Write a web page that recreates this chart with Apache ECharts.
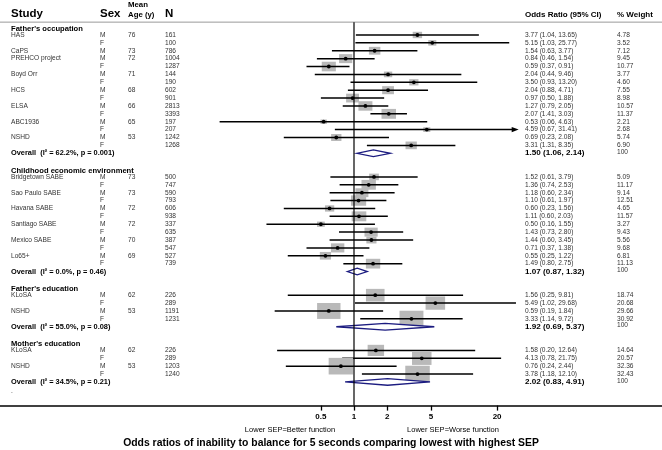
<!DOCTYPE html>
<html>
<head>
<meta charset="utf-8">
<script src="https://cdn.jsdelivr.net/npm/echarts@6/dist/echarts.min.js"></script>
<style>
  html, body { margin: 0; padding: 0; background: #fff; }
  #chart { width: 662px; height: 450px; }
</style>
</head>
<body>
<div id="chart"></div>
<script>
/* Forest plot: odds ratios by study, log x axis */

// study, sex, mean age, N, OR, lower, upper, % weight
const fatherOccupation = [
    ['HAS', 'M', '76', '161', 3.77, 1.04, 13.65, 4.78],
    ['', 'F', '', '100', 5.15, 1.03, 25.77, 3.52],
    ['CaPS', 'M', '73', '786', 1.54, 0.63, 3.77, 7.12],
    ['PREHCO project', 'M', '72', '1004', 0.84, 0.46, 1.54, 9.45],
    ['', 'F', '', '1287', 0.59, 0.37, 0.91, 10.77],
    ['Boyd Orr', 'M', '71', '144', 2.04, 0.44, 9.46, 3.77],
    ['', 'F', '', '190', 3.50, 0.93, 13.20, 4.60],
    ['HCS', 'M', '68', '602', 2.04, 0.88, 4.71, 7.55],
    ['', 'F', '', '901', 0.97, 0.50, 1.88, 8.98],
    ['ELSA', 'M', '66', '2813', 1.27, 0.79, 2.05, 10.57],
    ['', 'F', '', '3393', 2.07, 1.41, 3.03, 11.37],
    ['ABC1936', 'M', '65', '197', 0.53, 0.06, 4.63, 2.21],
    ['', 'F', '', '207', 4.59, 0.67, 31.41, 2.68],
    ['NSHD', 'M', '53', '1242', 0.69, 0.23, 2.08, 5.74],
    ['', 'F', '', '1268', 3.31, 1.31, 8.35, 6.90]
];
const childhoodEnvironment = [
    ['Bridgetown SABE', 'M', '73', '500', 1.52, 0.61, 3.79, 5.09],
    ['', 'F', '', '747', 1.36, 0.74, 2.53, 11.17],
    ['Sao Paulo SABE', 'M', '73', '590', 1.18, 0.60, 2.34, 9.14],
    ['', 'F', '', '793', 1.10, 0.61, 1.97, 12.51],
    ['Havana SABE', 'M', '72', '606', 0.60, 0.23, 1.56, 4.65],
    ['', 'F', '', '938', 1.11, 0.60, 2.03, 11.57],
    ['Santiago SABE', 'M', '72', '337', 0.50, 0.16, 1.55, 3.27],
    ['', 'F', '', '635', 1.43, 0.73, 2.80, 9.43],
    ['Mexico SABE', 'M', '70', '387', 1.44, 0.60, 3.45, 5.56],
    ['', 'F', '', '547', 0.71, 0.37, 1.38, 9.68],
    ['Lo65+', 'M', '69', '527', 0.55, 0.25, 1.22, 6.81],
    ['', 'F', '', '739', 1.49, 0.80, 2.75, 11.13]
];
const fatherEducation = [
    ['KLoSA', 'M', '62', '226', 1.56, 0.25, 9.81, 18.74],
    ['', 'F', '', '289', 5.49, 1.02, 29.68, 20.68],
    ['NSHD', 'M', '53', '1191', 0.59, 0.19, 1.84, 29.66],
    ['', 'F', '', '1231', 3.33, 1.14, 9.72, 30.92]
];
const motherEducation = [
    ['KLoSA', 'M', '62', '226', 1.58, 0.20, 12.64, 14.64],
    ['', 'F', '', '289', 4.13, 0.78, 21.75, 20.57],
    ['NSHD', 'M', '53', '1203', 0.76, 0.24, 2.44, 32.36],
    ['', 'F', '', '1240', 3.78, 1.18, 12.10, 32.43]
];

// I², p, OR, lower, upper
const overallEstimates = [
    ['62.2', '0.001', 1.50, 1.06, 2.14],
    ['0.0', '0.46', 1.07, 0.87, 1.32],
    ['55.0', '0.08', 1.92, 0.69, 5.37],
    ['34.5', '0.21', 2.02, 0.83, 4.91]
];
const sectionTitles = ["Father's occupation", 'Childhood economic environment', "Father's education", "Mother's education"];
const sectionStudies = [fatherOccupation, childhoodEnvironment, fatherEducation, motherEducation];

const xTicks = [0.5, 1, 2, 5, 20];
const arrowLimit = 30;

const FONT = '"Liberation Sans", Arial, sans-serif';
const col = { study: 11, sex: 100, age: 128, n: 165, or: 525, weight: 617 };

// build plot rows
const studyData = [];
const overallData = [];
const texts = [];
function addText(x, row, text, size, bold, color) {
    texts.push({ x, row, text, size, bold, color: color || '#000' });
}
let row = 0;
sectionTitles.forEach((title, s) => {
    addText(col.study, row + 0.2, title, 7.6, true);
    row++;
    sectionStudies[s].forEach(d => {
        const [name, sex, age, n, or, lo, hi, w] = d;
        studyData.push([or, lo, hi, w, row]);
        const c = '#333';
        if (name) addText(col.study, row, name, 6.6, false, c);
        addText(col.sex, row, sex, 6.6, false, c);
        if (age) addText(col.age, row, age, 6.6, false, c);
        addText(col.n, row, n, 6.6, false, c);
        addText(col.or, row, `${or.toFixed(2)} (${lo.toFixed(2)}, ${hi.toFixed(2)})`, 6.6, false, c);
        addText(col.weight, row, w.toFixed(2), 6.6, false, c);
        row++;
    });
    const [i2, p, or, lo, hi] = overallEstimates[s];
    overallData.push([or, lo, hi, row]);
    addText(col.study, row, `Overall  (I\u00b2 = ${i2}%, p = ${p})`, 7.4, true);
    addText(col.or, row, `${or.toFixed(2)} (${lo.toFixed(2)}, ${hi.toFixed(2)})`, 8.1, true);
    addText(col.weight, row - 0.15, '100', 6.6, false, '#333');
    row += 2;
});
addText(col.study, row - 0.8, '.', 6.6, false, '#333');

// header
addText(col.study, -1.62, 'Study', 11.5, true);
addText(col.sex, -1.62, 'Sex', 11.5, true);
addText(col.age, -2.8, 'Mean', 7.8, true);
addText(col.age, -1.6, 'Age (y)', 7.8, true);
addText(col.n, -1.62, 'N', 11.5, true);
addText(col.or, -1.62, 'Odds Ratio (95% CI)', 8, true);
addText(col.weight, -1.62, '% Weight', 8, true);

const chart = echarts.init(document.getElementById('chart'));
chart.setOption({
    animation: false,
    grid: { left: 0, right: 0, top: 3.44, bottom: 44.4 },
    xAxis: [{
        type: 'log',
        logBase: 10,
        min: 0.000605,
        max: 631,
        axisLine: { onZero: false, lineStyle: { color: '#000', width: 1.6 } },
        axisTick: { show: true, customValues: xTicks, length: 5, lineStyle: { color: '#000', width: 1.3 } },
        axisLabel: {
            customValues: xTicks, margin: 7,
            fontFamily: FONT, fontSize: 8, fontWeight: 'bold', color: '#000'
        },
        splitLine: { show: false },
        minorTick: { show: false }
    }, {
        type: 'value', position: 'top', min: 0, max: 662, show: false
    }],
    yAxis: { type: 'value', inverse: true, min: -3, max: 48, show: false },
    series: [
        {
            // header separator
            type: 'line', xAxisIndex: 1, symbol: 'none', silent: true,
            data: [[0, -0.63], [662, -0.63]],
            lineStyle: { color: '#9a9a9a', width: 1 }
        },
        {
            // null line at OR = 1
            type: 'line', xAxisIndex: 0, symbol: 'none', silent: true,
            data: [[1, -0.63], [1, 48]],
            lineStyle: { color: '#000', width: 1.2 }
        },
        {
            type: 'custom', xAxisIndex: 0,
            data: studyData,
            renderItem(params, api) {
                const or = api.value(0), lo = api.value(1), hi = api.value(2), w = api.value(3), r = api.value(4);
                const c = api.coord([or, r]);
                const l = api.coord([lo, r]);
                const h = api.coord([hi, r]);
                const bw = 4.3 * Math.sqrt(w), bh = bw * 0.68;
                const arrow = hi > arrowLimit;
                const children = [
                    { type: 'rect', shape: { x: c[0] - bw / 2, y: c[1] - bh / 2, width: bw, height: bh },
                      style: { fill: '#b9b9b9' } },
                    { type: 'line', shape: { x1: l[0], y1: l[1], x2: arrow ? h[0] - 6 : h[0], y2: h[1] },
                      style: { stroke: '#000', lineWidth: 1.5 } },
                    { type: 'circle', shape: { cx: c[0], cy: c[1], r: 1.9 }, style: { fill: '#000' } }
                ];
                if (arrow) {
                    children.push({ type: 'polygon',
                        shape: { points: [[h[0], h[1]], [h[0] - 7, h[1] - 2.6], [h[0] - 7, h[1] + 2.6]] },
                        style: { fill: '#000' } });
                }
                return { type: 'group', children };
            }
        },
        {
            type: 'custom', xAxisIndex: 0,
            data: overallData,
            renderItem(params, api) {
                const r = api.value(3);
                const c = api.coord([api.value(0), r]);
                const l = api.coord([api.value(1), r]);
                const h = api.coord([api.value(2), r]);
                const dh = 3.3;
                return {
                    type: 'polygon',
                    shape: { points: [[l[0], l[1]], [c[0], c[1] - dh], [h[0], h[1]], [c[0], c[1] + dh]] },
                    style: { fill: '#fff', stroke: '#1c1c80', lineWidth: 1.3 }
                };
            }
        },
        {
            type: 'custom', xAxisIndex: 1,
            data: texts.map(t => [t.x, t.row]),
            renderItem(params, api) {
                const t = texts[params.dataIndex];
                const p = api.coord([api.value(0), api.value(1)]);
                return {
                    type: 'text',
                    x: p[0], y: p[1],
                    style: {
                        text: t.text, fill: t.color,
                        font: `${t.bold ? 'bold ' : ''}${t.size}px ${FONT}`,
                        textAlign: 'left', textVerticalAlign: 'middle'
                    }
                };
            }
        }
    ],
    graphic: [
        { type: 'text', x: 290, y: 430, style: { text: 'Lower SEP=Better function', font: `7.5px ${FONT}`,
          fill: '#000', textAlign: 'center', textVerticalAlign: 'middle' } },
        { type: 'text', x: 453, y: 430, style: { text: 'Lower SEP=Worse function', font: `7.5px ${FONT}`,
          fill: '#000', textAlign: 'center', textVerticalAlign: 'middle' } },
        { type: 'text', x: 331, y: 443, style: {
          text: 'Odds ratios of inability to balance for 5 seconds comparing lowest with highest SEP',
          font: `bold 10.4px ${FONT}`, fill: '#000', textAlign: 'center', textVerticalAlign: 'middle' } }
    ]
});
</script>
</body>
</html>
